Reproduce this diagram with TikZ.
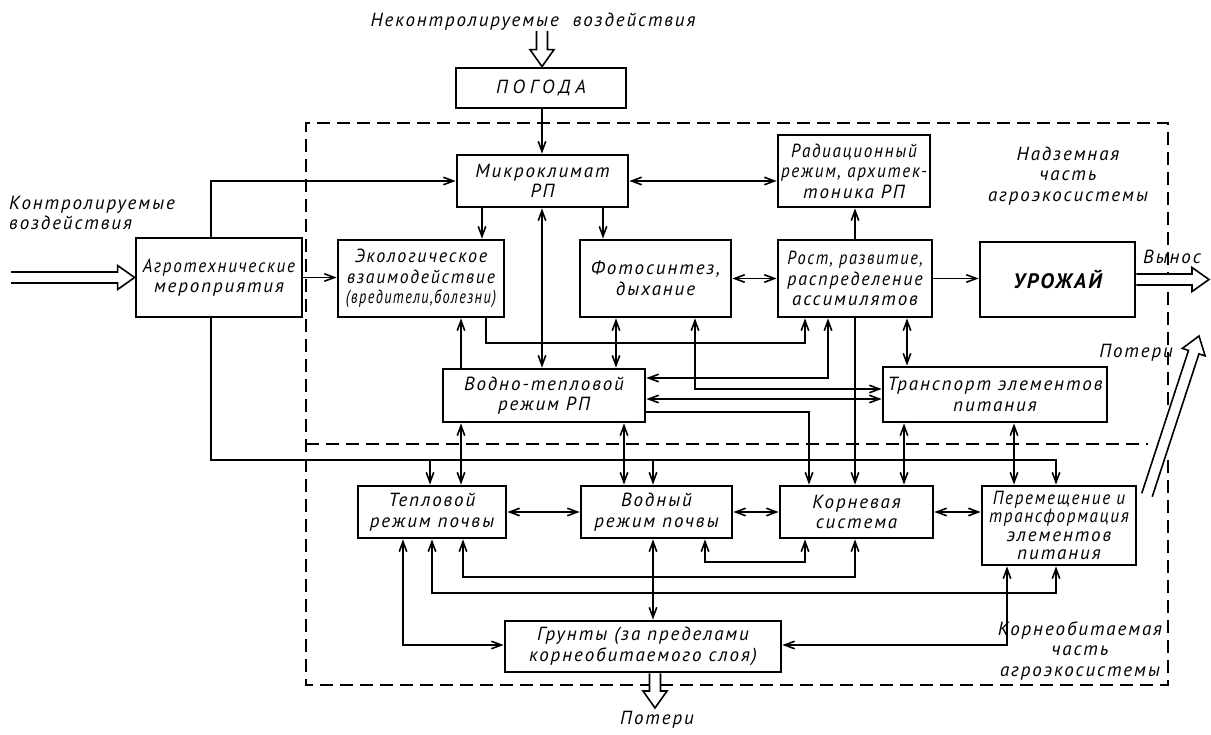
\documentclass[tikz,border=0pt]{standalone}
\usepackage{fontspec}
\usepackage{graphicx}
\setmainfont{PT Sans}[LetterSpace=10]
\usetikzlibrary{arrows.meta,calc}

% open double-line arrow from #1 to #2 (tip at #2)
\newcommand\hollowarrow[2]{%
  \path let \p1=(#1), \p2=(#2) in \pgfextra{%
    \pgfmathsetmacro\haA{atan2((\y2)-(\y1),(\x2)-(\x1))}%
    \pgfmathsetmacro\haL{veclen((\x2)-(\x1),(\y2)-(\y1))}%
    \xdef\haAng{\haA}\xdef\haLen{\haL}%
    \xdef\haX{\x2}\xdef\haY{\y2}};
  \filldraw[hollow,shift={(\haX,\haY)},rotate=\haAng]
    (-\haLen,-5.5) -- (-17,-5.5) -- (-17,-12) -- (0,0) -- (-17,12) -- (-17,5.5) -- (-\haLen,5.5);
}
% horizontally squeezed line of text
\newcommand\squeeze[2]{\scalebox{#1}[1]{#2}}

\begin{document}
\begin{tikzpicture}[x=1pt,y=-1pt,
  font=\fontsize{19}{20.5}\selectfont\itshape,
  >={Straight Barb[length=10pt,width=7.5pt]},
  box/.style={draw,line width=2.8pt,inner sep=0pt,align=center},
  conn/.style={line width=1.6pt},
  zone/.style={line width=1.8pt,dash pattern=on 13pt off 7pt},
  hollow/.style={line width=1.6pt,fill=white,line join=miter},
  txt/.style={inner sep=0pt,align=center}]
\useasboundingbox (0,0) rectangle (1211,735);

% above-ground and root-zone parts of the agroecosystem
\draw[zone] (1168,405) -- (1168,123) -- (306,123) -- (306,685) -- (1168,685) -- (1168,455);
\draw[zone] (306,444) -- (1148,444);

% blocks
\node[box,minimum width=170pt,minimum height=40pt] (pogoda) at (541,88) {\addfontfeatures{LetterSpace=25}ПОГОДА};
\node[box,minimum width=171pt,minimum height=52pt] (micro) at (542.5,181) {Микроклимат\\РП};
\node[box,minimum width=152pt,minimum height=72pt] (rad) at (854,171) {\squeeze{0.9}{Радиационный}\\\squeeze{0.9}{режим, архитек-}\\тоника РП};
\node[box,minimum width=166pt,minimum height=79pt] (agro) at (219,277.5) {\squeeze{0.9}{Агротехнические}\\мероприятия};
\node[box,minimum width=166pt,minimum height=77pt] (eco) at (421,278.5) {\squeeze{0.95}{Экологическое}\\\squeeze{0.93}{взаимодействие}\\\squeeze{0.75}{(вредители,болезни)}};
\node[box,minimum width=151pt,minimum height=77pt] (photo) at (655.5,278.5) {Фотосинтез,\\дыхание};
\node[box,minimum width=154pt,minimum height=77pt] (rost) at (855,278.5) {\squeeze{0.86}{Рост, развитие,}\\\squeeze{0.95}{распределение}\\ассимилятов};
\node[box,minimum width=155pt,minimum height=75pt] (crop) at (1057.5,279.5) {\fontsize{21}{22}\selectfont\bfseries УРОЖАЙ};
\node[box,minimum width=202pt,minimum height=53pt] (vt) at (544,395.5) {Водно-тепловой\\режим РП};
\node[box,minimum width=224pt,minimum height=55pt] (trans) at (995,394.5) {Транспорт элементов\\питания};
\node[box,minimum width=148pt,minimum height=52pt] (teplo) at (432,512) {Тепловой\\режим почвы};
\node[box,minimum width=151pt,minimum height=52pt] (vodn) at (656.5,512) {Водный\\режим почвы};
\node[box,minimum width=153pt,minimum height=52pt] (koren) at (856.5,512) {Корневая\\система};
\node[box,minimum width=154pt,minimum height=79pt,font=\fontsize{19}{18.5}\selectfont\itshape] (perem) at (1059,525.5) {\squeeze{0.9}{Перемещение и}\\\squeeze{0.9}{трансформация}\\элементов\\питания};
\node[box,minimum width=276pt,minimum height=51pt] (grunt) at (643,646.5) {Грунты (за пределами\\корнеобитаемого слоя)};

% captions
\node[txt] (unctrl) at (533,22) {Неконтролируемые\ \ воздействия};
\node[txt,anchor=north west,align=left] (ctrl) at (9,196) {Контролируемые\\воздействия};
\node[txt] (above) at (1068,176) {Надземная\\часть\\агроэкосистемы};
\node[txt] (below) at (1080,651) {Корнеобитаемая\\часть\\агроэкосистемы};
\node[txt] (vynos) at (1172,257) {Вынос};
\node[txt,anchor=east] (lossup) at (1173,353) {Потери};
\node[txt] (lossdn) at (657,720) {Потери};

% free ends of the open arrows
\coordinate (ctrlin) at (11,277.5);
\coordinate (vynosend) at (1209,279.5);
\coordinate (lossdnend) at (655,708);
\coordinate (lossup0) at (1147,495);
\coordinate (lossup1) at (1199,336);

% connector columns and rows
\foreach \c in {211,403,430,432,461,463,482,486,542,603,616,624,653,655,695,705,805,809,828,855,904,907,1007,1014,1056}
  \coordinate (c\c) at (\c,0);
\foreach \r in {343,378,389,399,412,460,562,577,593,645}
  \coordinate (r\r) at (0,\r);

% upper part
\draw[conn,->] (pogoda.south -| c542) -- (micro.north -| c542);
\draw[conn,->] (agro.north -| c211) |- (micro.west);
\draw[conn,->] (agro.east) -- (agro.east -| eco.west);
\draw[conn,->] (micro.south -| c482) -- (eco.north -| c482);
\draw[conn,->] (micro.south -| c603) -- (photo.north -| c603);
\draw[conn,<->] (micro.east) -- (micro.east -| rad.west);
\draw[conn,<->] (vt.north -| c542) -- (micro.south -| c542);
\draw[conn,<->] (photo.east) -- (photo.east -| rost.west);
\draw[conn,->] (rost.north -| c855) -- (rad.south -| c855);
\draw[conn,->] (rost.east) -- (rost.east -| crop.west);
\draw[conn,->] (vt.north -| c461) -- (eco.south -| c461);
\draw[conn,->] (eco.south -| c486) |- (r343 -| c805) -- (rost.south -| c805);
\draw[conn,<->] (photo.south -| c616) -- (vt.north -| c616);
\draw[conn,<->] (photo.south -| c695) |- (trans.west |- r389);
\draw[conn,<->] (rost.south -| c828) |- (vt.east |- r378);
\draw[conn,<->] (vt.east |- r399) -- (trans.west |- r399);
\draw[conn,<->] (rost.south -| c907) -- (trans.north -| c907);

% links down into the root zone
\draw[conn,->] (agro.south -| c211) |- (r460 -| c1056) -- (perem.north -| c1056);
\draw[conn,->] (r460 -| c430) -- (teplo.north -| c430);
\draw[conn,->] (r460 -| c653) -- (vodn.north -| c653);
\draw[conn,->] (vt.east |- r412) -| (koren.north -| c809);
\draw[conn,->] (rost.south -| c855) -- (koren.north -| c855);
\draw[conn,<->] (trans.south -| c904) -- (koren.north -| c904);
\draw[conn,<->] (trans.south -| c1014) -- (perem.north -| c1014);
\draw[conn,<->] (vt.south -| c461) -- (teplo.north -| c461);
\draw[conn,<->] (vt.south -| c624) -- (vodn.north -| c624);

% root zone
\draw[conn,<->] (teplo.east) -- (teplo.east -| vodn.west);
\draw[conn,<->] (vodn.east) -- (vodn.east -| koren.west);
\draw[conn,<->] (koren.east) -- (koren.east -| perem.west);
\draw[conn,<->] (vodn.south -| c653) -- (grunt.north -| c653);
\draw[conn,<->] (vodn.south -| c705) |- (r562 -| c805) -- (koren.south -| c805);
\draw[conn,<->] (teplo.south -| c463) |- (r577 -| c855) -- (koren.south -| c855);
\draw[conn,<->] (teplo.south -| c432) |- (r593 -| c1056) -- (perem.south -| c1056);
\draw[conn,<->] (teplo.south -| c403) |- (grunt.west |- r645);
\draw[conn,<->] (perem.south -| c1007) |- (grunt.east |- r645);

% open arrows: inputs, yield removal and losses
\hollowarrow{unctrl.south -| c542}{pogoda.north -| c542}
\hollowarrow{ctrlin}{agro.west}
\hollowarrow{crop.east}{vynosend}
\hollowarrow{grunt.south -| c655}{lossdnend}
\hollowarrow{lossup0}{lossup1}
\end{tikzpicture}
\end{document}
